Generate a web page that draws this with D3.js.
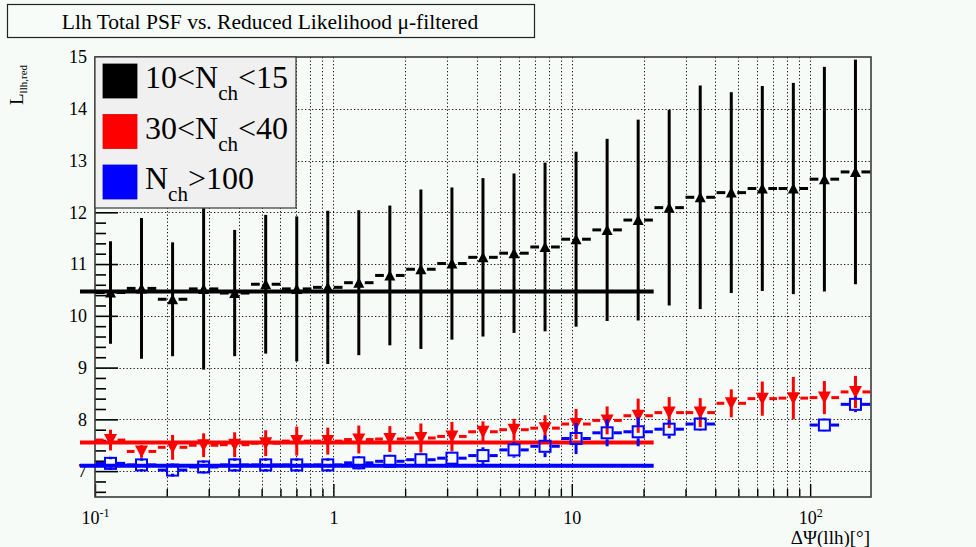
<!DOCTYPE html>
<html>
<head>
<meta charset="utf-8">
<script src="https://cdn.jsdelivr.net/npm/d3@7"></script>
<style>
  html, body { margin: 0; padding: 0; background: #f6fbf8; }
  svg { display: block; font-family: "Liberation Serif", "Times New Roman", serif; }
  svg text { font-family: "Liberation Serif", "Times New Roman", serif; }
</style>
</head>
<body>
<svg id="chart" width="976" height="547"></svg>
<script>
// ---------------- data ----------------
const titleText = "Llh Total PSF vs. Reduced Likelihood \u03bc-filtered";
const binEdges = [0.1, 0.1349, 0.1821, 0.2458, 0.3317, 0.4477, 0.6042, 0.8154, 1.1005, 1.4851,
                  2.0045, 2.7054, 3.651, 4.928, 6.650, 8.974, 12.11, 16.35, 22.06, 29.77,
                  40.18, 54.23, 73.18, 98.76, 133.3, 180];

const blackValues = [10.45, 10.53, 10.32, 10.52, 10.44, 10.61, 10.52, 10.55, 10.64, 10.78,
                     10.90, 11.01, 11.13, 11.21, 11.33, 11.48, 11.66, 11.85, 12.09, 12.29,
                     12.38, 12.46, 12.46, 12.64, 12.78];
const blackErrors = [0.99, 1.36, 1.10, 1.56, 1.22, 1.34, 1.40, 1.48, 1.40, 1.35,
                     1.54, 1.47, 1.53, 1.54, 1.63, 1.69, 1.76, 1.94, 1.89, 2.16,
                     1.94, 1.98, 2.04, 2.17, 2.17];

const redValues = [7.60, 7.38, 7.46, 7.50, 7.51, 7.54, 7.58, 7.58, 7.61, 7.62,
                   7.64, 7.67, 7.76, 7.80, 7.83, 7.91, 7.98, 8.07, 8.13, 8.13,
                   8.31, 8.40, 8.41, 8.42, 8.53];
const redErrors = [0.20, 0.12, 0.24, 0.23, 0.24, 0.25, 0.28, 0.26, 0.27, 0.25,
                   0.28, 0.28, 0.20, 0.21, 0.25, 0.29, 0.27, 0.33, 0.30, 0.28,
                   0.27, 0.33, 0.41, 0.32, 0.31];

const blueValues = [7.15, 7.12, 7.02, 7.08, 7.12, 7.12, 7.12, 7.12, 7.16, 7.19,
                    7.22, 7.25, 7.30, 7.41, 7.48, 7.63, 7.74, 7.76, 7.81, 7.91,
                    null, null, null, 7.89, 8.29];
const blueErrors = [0.08, 0.08, 0.07, 0.08, 0.08, 0.08, 0.08, 0.08, 0.10, 0.10,
                    0.12, 0.12, 0.16, 0.15, 0.21, 0.30, 0.26, 0.28, 0.18, 0.10,
                    null, null, null, 0.12, 0.15];

// constant fits: level and x-range
const fitLevels = [10.47, 7.555, 7.105];
const fitRange = [0.0865, 22.06];

const legendLabels = [["10<N", "ch", "<15"], ["30<N", "ch", "<40"], ["N", "ch", ">100"]];
const seriesColors = ["#000000", "#ff0000", "#0000ff"];

const xDomain = [0.1, 180];
const yDomain = [6.5, 15];
const xMajorTicks = [0.1, 1, 10, 100];
const xTickBase = ["10", "1", "10", "10"];
const xTickExp = ["-1", "", "", "2"];
const yMajorTicks = [7, 8, 9, 10, 11, 12, 13, 14, 15];
const xAxisTitle = "\u0394\u03a8(llh)[\u00b0]";
const yAxisTitle = ["L", "llh,red"];

// ---------------- layout ----------------
const FONT = "Liberation Serif, Times New Roman, serif";
const L = 95, R = 871, T = 57, B = 497;
const svg = d3.select("#chart");
svg.append("rect").attr("width", 976).attr("height", 547).attr("fill", "#f6fbf8");

const x = d3.scaleLog().domain(xDomain).range([L, R]);
const y = d3.scaleLinear().domain(yDomain).range([B, T]);

// minor ticks (log decades, 0.2 steps in y)
const xMinor = [];
[0.1, 1, 10, 100].forEach(d => { for (let k = 2; k <= 9; k++) { const v = d * k; if (v < xDomain[1]) xMinor.push(v); } });
const yMinor = d3.range(66, 150, 2).map(v => v / 10).filter(v => Math.abs(v - Math.round(v)) > 1e-6);

// ---------------- grid ----------------
const grid = svg.append("g").attr("stroke", "#1a1a1a").attr("stroke-width", 1).attr("stroke-dasharray", "1.3,2.2");
grid.selectAll("line.gx").data(xMajorTicks.concat(xMinor).filter(v => v > xDomain[0])).join("line")
  .attr("x1", d => Math.round(x(d)) + 0.5).attr("x2", d => Math.round(x(d)) + 0.5)
  .attr("y1", T).attr("y2", B);
grid.selectAll("line.gy").data(yMajorTicks.filter(v => v < yDomain[1])).join("line")
  .attr("y1", d => Math.round(y(d)) + 0.5).attr("y2", d => Math.round(y(d)) + 0.5)
  .attr("x1", L).attr("x2", R);

// ---------------- axes ----------------
const fontAxis = 18;
const yAx = svg.append("g").attr("transform", `translate(${L},0)`)
  .call(d3.axisLeft(y).tickValues(yMajorTicks).tickSizeInner(-23).tickSizeOuter(0).tickPadding(8).tickFormat(d3.format("d")));
yAx.attr("font-family", FONT);
yAx.select(".domain").remove();
yAx.selectAll("line").attr("stroke", "#000").attr("stroke-width", 1.6);
yAx.selectAll("text").attr("font-size", fontAxis).attr("fill", "#000").attr("font-family", FONT);
const yAxMinor = svg.append("g").attr("transform", `translate(${L},0)`)
  .call(d3.axisLeft(y).tickValues(yMinor).tickSizeInner(-11).tickSizeOuter(0).tickFormat(""));
yAxMinor.select(".domain").remove();
yAxMinor.selectAll("line").attr("stroke", "#000").attr("stroke-width", 1.6);

const xAx = svg.append("g").attr("transform", `translate(0,${B})`)
  .call(d3.axisBottom(x).tickValues(xMajorTicks).tickSizeInner(-13).tickSizeOuter(0).tickPadding(14).tickFormat(""));
xAx.attr("font-family", FONT);
xAx.select(".domain").remove();
xAx.selectAll("line").attr("stroke", "#000").attr("stroke-width", 1.4);
xAx.selectAll(".tick").each(function (d, i) {
  const t = d3.select(this).select("text")
    .attr("font-size", fontAxis).attr("fill", "#000").attr("font-family", FONT);
  t.append("tspan").text(xTickBase[i]);
  if (xTickExp[i]) t.append("tspan").attr("font-size", 12).attr("dy", -7).text(xTickExp[i]);
});
const xAxMinor = svg.append("g").attr("transform", `translate(0,${B})`)
  .call(d3.axisBottom(x).tickValues(xMinor).tickSizeInner(-8).tickSizeOuter(0).tickFormat(""));
xAxMinor.select(".domain").remove();
xAxMinor.selectAll("line").attr("stroke", "#000").attr("stroke-width", 1.4);

// frame
svg.append("rect").attr("x", L).attr("y", T).attr("width", R - L).attr("height", B - T)
  .attr("fill", "none").attr("stroke", "#3a3a3a").attr("stroke-width", 1.6);

// ---------------- series ----------------
function drawSeries(values, errors, color, marker) {
  const g = svg.append("g");
  const lw = 3;
  const gapH = marker === "square" ? 6.5 : (marker === "down" ? 7 : 6);
  const gapV = marker === "square" ? 6.5 : 0;
  values.forEach((v, i) => {
    if (v === null) return;
    const lo = binEdges[i], hi = binEdges[i + 1];
    const cx = x(Math.sqrt(lo * hi)), cy = y(v);
    const x0 = x(lo) + 0.8, x1 = x(hi) - 0.8;
    const e = errors[i];
    // horizontal bin bars
    g.append("line").attr("x1", x0).attr("x2", cx - gapH).attr("y1", cy).attr("y2", cy)
      .attr("stroke", color).attr("stroke-width", lw);
    g.append("line").attr("x1", cx + gapH).attr("x2", x1).attr("y1", cy).attr("y2", cy)
      .attr("stroke", color).attr("stroke-width", lw);
    // vertical error bars
    g.append("line").attr("x1", cx).attr("x2", cx).attr("y1", y(v + e)).attr("y2", cy - gapV)
      .attr("stroke", color).attr("stroke-width", lw);
    g.append("line").attr("x1", cx).attr("x2", cx).attr("y1", cy + gapV).attr("y2", y(v - e))
      .attr("stroke", color).attr("stroke-width", lw);
    // marker
    if (marker === "up") {
      g.append("path").attr("d", `M${cx - 5.5},${cy + 5} L${cx + 5.5},${cy + 5} L${cx},${cy - 5.5} Z`).attr("fill", color);
    } else if (marker === "down") {
      g.append("path").attr("d", `M${cx - 6.5},${cy - 6} L${cx + 6.5},${cy - 6} L${cx},${cy + 6.5} Z`).attr("fill", color);
    } else {
      g.append("rect").attr("x", cx - 5.5).attr("y", cy - 5.5).attr("width", 11).attr("height", 11)
        .attr("fill", "none").attr("stroke", color).attr("stroke-width", 2);
    }
  });
}
function drawFit(level, color) {
  svg.append("line").attr("x1", x(fitRange[0])).attr("x2", x(fitRange[1]))
    .attr("y1", y(level)).attr("y2", y(level)).attr("stroke", color).attr("stroke-width", 4);
}
drawSeries(blackValues, blackErrors, seriesColors[0], "up");
drawFit(fitLevels[0], seriesColors[0]);
drawSeries(redValues, redErrors, seriesColors[1], "down");
drawFit(fitLevels[1], seriesColors[1]);
drawSeries(blueValues, blueErrors, seriesColors[2], "square");
drawFit(fitLevels[2], seriesColors[2]);

// ---------------- legend ----------------
const lg = svg.append("g");
lg.append("rect").attr("x", L).attr("y", T).attr("width", 201).attr("height", 151)
  .attr("fill", "#f0f0f0").attr("stroke", "#3a3a3a").attr("stroke-width", 1.2);
legendLabels.forEach((lab, i) => {
  const cy = 81 + i * 50.5;
  lg.append("rect").attr("x", 103).attr("y", cy - 17).attr("width", 34).attr("height", 34)
    .attr("fill", seriesColors[i]).attr("stroke", d3.color(seriesColors[i]).darker(0.3)).attr("stroke-width", 0.8);
  const t = lg.append("text").attr("x", 145).attr("y", cy + 7).attr("font-size", 32)
    .attr("font-family", FONT).attr("fill", "#000");
  t.append("tspan").text(lab[0]);
  t.append("tspan").attr("font-size", 21).attr("dy", 12).text(lab[1]);
  t.append("tspan").attr("dy", -12).text(lab[2]);
});

// ---------------- title ----------------
svg.append("rect").attr("x", 7.5).attr("y", 4.5).attr("width", 527).attr("height", 33)
  .attr("fill", "#f8fcf9").attr("stroke", "#222").attr("stroke-width", 1.2);
svg.append("text").attr("x", 270).attr("y", 29).attr("text-anchor", "middle")
  .attr("font-family", FONT).attr("font-size", 21.5).attr("fill", "#000").text(titleText);

// ---------------- axis titles ----------------
svg.append("text").attr("x", 870).attr("y", 544).attr("text-anchor", "end")
  .attr("font-family", FONT).attr("font-size", 19).attr("fill", "#000").text(xAxisTitle);
const yt = svg.append("text").attr("transform", "translate(23,105) rotate(-90)")
  .attr("font-family", FONT).attr("font-size", 19).attr("fill", "#000");
yt.append("tspan").text(yAxisTitle[0]);
yt.append("tspan").attr("font-size", 11).attr("dy", 4).text(yAxisTitle[1]);
</script>
</body>
</html>
